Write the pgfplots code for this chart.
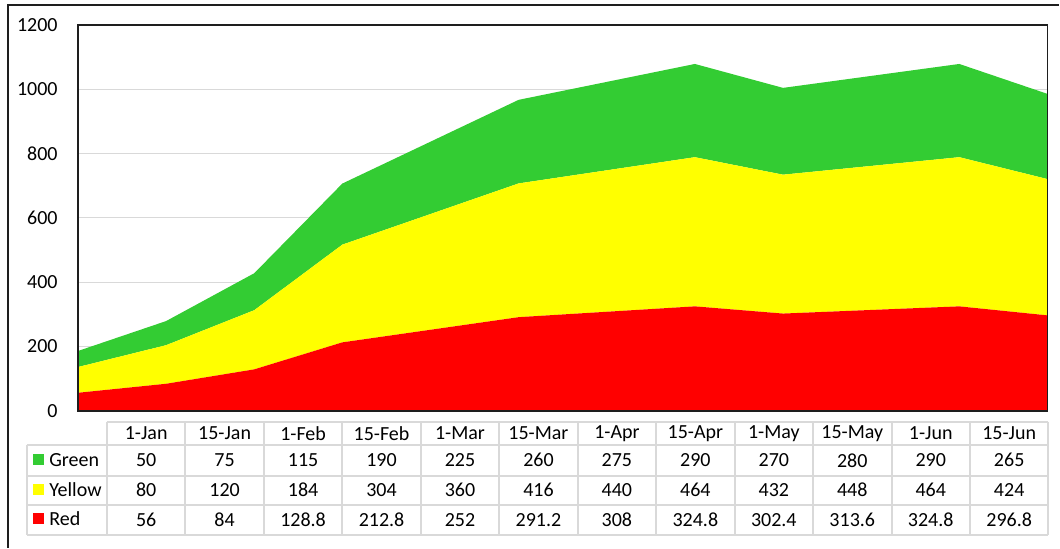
\documentclass[border=0pt]{standalone}
\usepackage{pgfplots}
\pgfplotsset{compat=1.18}
\usepackage{pgfplotstable}
\usepackage{fontspec}
\setmainfont{Carlito}
\definecolor{cgreen}{RGB}{51,204,51}
\definecolor{cyellow}{RGB}{255,255,0}
\definecolor{cred}{RGB}{255,0,0}
\definecolor{cgrid}{RGB}{217,217,217}
\definecolor{cborder}{RGB}{30,30,30}

\pgfplotstableread{
i date Green Yellow Red
0 1-Jan 50 80 56
1 15-Jan 75 120 84
2 1-Feb 115 184 128.8
3 15-Feb 190 304 212.8
4 1-Mar 225 360 252
5 15-Mar 260 416 291.2
6 1-Apr 275 440 308
7 15-Apr 290 464 324.8
8 1-May 270 432 302.4
9 15-May 280 448 313.6
10 1-Jun 290 464 324.8
11 15-Jun 265 424 296.8
}\datatable

\begin{document}
\fontsize{10}{12}\selectfont
\begin{tikzpicture}
\begin{scope}[x=0.5pt,y=-0.5pt]
\path[use as bounding box] (0,0) rectangle (1060,548);
\end{scope}
\begin{axis}[
  at={(39pt,-205.5pt)}, anchor=south west,
  scale only axis, width=485pt, height=193pt,
  xmin=0, xmax=11, ymin=0, ymax=1200,
  xtick=\empty,
  ytick={0,200,...,1200},
  ymajorgrids, grid style={cgrid, line width=0.6pt},
  major tick length=0pt,
  axis line style={draw=none},
  stack plots=y,
  /pgf/number format/assume math mode=true,
  /pgf/number format/1000 sep={},
  yticklabel style={anchor=east, inner sep=0pt, xshift=-10pt, font=\fontsize{10}{12}\selectfont},
]
\addplot[draw=none, fill=cred] table[x=i, y=Red]{\datatable} \closedcycle;
\addplot[draw=none, fill=cyellow] table[x=i, y=Yellow]{\datatable} \closedcycle;
\addplot[draw=none, fill=cgreen] table[x=i, y=Green]{\datatable} \closedcycle;
\end{axis}
\begin{scope}[x=0.5pt,y=-0.5pt]
% outer chart frame (only left and top visible)
\draw[cborder, line width=0.6pt] (8,548) -- (8,5) -- (1060,5);
% plot area border
\draw[cborder, line width=0.75pt] (78,25) rectangle (1048,411);
% data table grid
\begin{scope}[cgrid, line width=1pt]
\draw (107,422) -- (1049,422);
\foreach \yy in {445,476,505,535} \draw (27,\yy) -- (1049,\yy);
\draw (27,445) -- (27,535);
\foreach \c in {0,...,12} \draw ({107+78.5*\c},422) -- ({107+78.5*\c},535);
\end{scope}
% legend keys
\fill[cgreen] (33,454) rectangle (44,465);
\node[anchor=west, inner sep=0pt] at (49,460) {Green};
\fill[cyellow] (33,484) rectangle (44,495);
\node[anchor=west, inner sep=0pt] at (49,490) {Yellow};
\fill[cred] (33,513) rectangle (44,524);
\node[anchor=west, inner sep=0pt] at (49,519) {Red};
% cell texts
\foreach \c in {0,...,11} {
  \pgfplotstablegetelem{\c}{date}\of\datatable
  \node[inner sep=0pt] at ({107+78.5*(\c+0.5)},433.5) {\pgfplotsretval};
  \pgfplotstablegetelem{\c}{Green}\of\datatable
  \node[inner sep=0pt] at ({107+78.5*(\c+0.5)},460.5) {\pgfplotsretval};
  \pgfplotstablegetelem{\c}{Yellow}\of\datatable
  \node[inner sep=0pt] at ({107+78.5*(\c+0.5)},490.5) {\pgfplotsretval};
  \pgfplotstablegetelem{\c}{Red}\of\datatable
  \node[inner sep=0pt] at ({107+78.5*(\c+0.5)},520) {\pgfplotsretval};
}
\end{scope}
\end{tikzpicture}
\end{document}
